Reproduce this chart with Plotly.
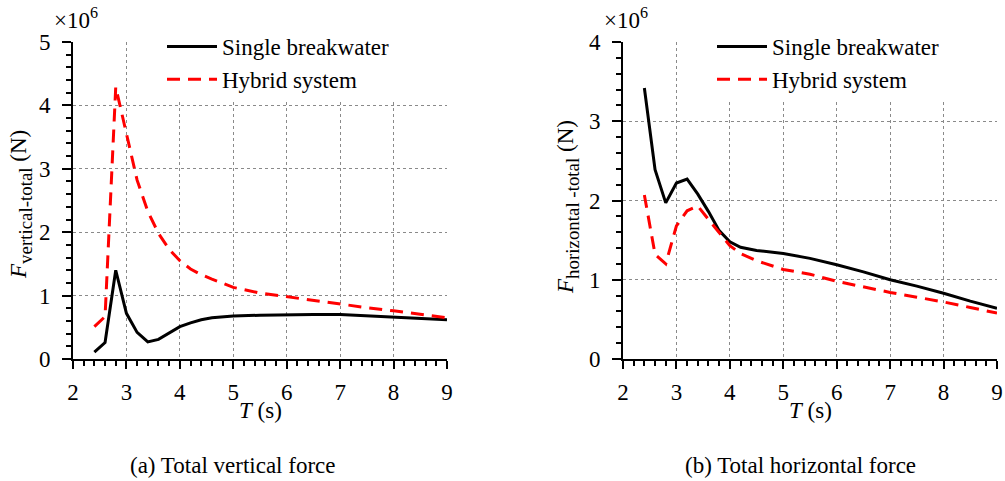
import plotly.graph_objects as go

# ---------------- data (forces in units of 10^6 N) ----------------
T_vert = [2.4, 2.6, 2.8, 3.0, 3.2, 3.4, 3.6, 3.8, 4.0, 4.2, 4.4, 4.6, 4.8, 5.0,
          5.5, 6.0, 6.5, 7.0, 7.5, 8.0, 8.5, 9.0]
F_vert_single = [0.11, 0.26, 1.40, 0.72, 0.42, 0.27, 0.31, 0.41, 0.51, 0.57, 0.62,
                 0.65, 0.67, 0.68, 0.69, 0.70, 0.70, 0.70, 0.68, 0.66, 0.64, 0.62]
F_vert_hybrid = [0.51, 0.67, 4.29, 3.53, 2.82, 2.33, 1.98, 1.73, 1.55, 1.42, 1.33,
                 1.26, 1.19, 1.13, 1.04, 0.98, 0.92, 0.86, 0.81, 0.76, 0.70, 0.65]

T_horiz = [2.4, 2.6, 2.8, 3.0, 3.2, 3.4, 3.6, 3.8, 4.0, 4.2, 4.5, 5.0, 5.5, 6.0,
           6.5, 7.0, 7.5, 8.0, 8.5, 9.0]
F_horiz_single = [3.42, 2.39, 1.97, 2.22, 2.27, 2.08, 1.86, 1.62, 1.48, 1.41, 1.37,
                  1.33, 1.27, 1.19, 1.10, 1.00, 0.92, 0.83, 0.73, 0.64]
F_horiz_hybrid = [2.07, 1.32, 1.20, 1.68, 1.87, 1.93, 1.76, 1.59, 1.43, 1.33, 1.24,
                  1.13, 1.07, 0.98, 0.91, 0.84, 0.78, 0.72, 0.65, 0.58]

series_names = ["Single breakwater", "Hybrid system"]
x_grid = [3, 4, 5, 6, 7, 8]
y_grid_vert = [1, 2, 3, 4]
y_grid_horiz = [1, 2, 3]
captions = ["(a) Total vertical force", "(b) Total horizontal force"]
y_subscripts = ["vertical-total", "horizontal -total"]
x_title = "<i>T</i> (s)"
scale_label = "\u00d710<sup>6</sup>"

# ---------------- layout constants ----------------
W, H = 1005, 481
FONT = "Liberation Serif, Times New Roman, serif"
FS = 23
px_x = lambda p: p / W
px_y = lambda p: 1 - p / H

xdom1 = [px_x(73), px_x(447)]
xdom2 = [px_x(623), px_x(997)]
ydom = [px_y(359), px_y(42)]

SOLID = dict(color="black", width=3)
DASHED = dict(color="#ff0000", width=3, dash="13px,8px")

fig = go.Figure()
fig.add_trace(go.Scatter(x=T_vert, y=F_vert_single, mode="lines", name=series_names[0],
                         line=SOLID, xaxis="x", yaxis="y", legend="legend"))
fig.add_trace(go.Scatter(x=T_vert, y=F_vert_hybrid, mode="lines", name=series_names[1],
                         line=DASHED, xaxis="x", yaxis="y", legend="legend"))
fig.add_trace(go.Scatter(x=T_horiz, y=F_horiz_single, mode="lines", name=series_names[0],
                         line=SOLID, xaxis="x2", yaxis="y2", legend="legend2"))
fig.add_trace(go.Scatter(x=T_horiz, y=F_horiz_hybrid, mode="lines", name=series_names[1],
                         line=DASHED, xaxis="x2", yaxis="y2", legend="legend2"))
# empty carriers for grid-only overlay axes
fig.add_trace(go.Scatter(x=[], y=[], xaxis="x3", yaxis="y3", showlegend=False, hoverinfo="skip"))
fig.add_trace(go.Scatter(x=[], y=[], xaxis="x4", yaxis="y4", showlegend=False, hoverinfo="skip"))

tickfont = dict(family=FONT, size=FS, color="black")


def main_x(dom, anchor):
    return dict(domain=dom, anchor=anchor, range=[2, 9], tickmode="linear", tick0=2, dtick=1,
                showgrid=False, zeroline=False, showline=True, linecolor="black", linewidth=2,
                ticks="outside", ticklen=8, tickwidth=2, tickcolor="black",
                minor=dict(tick0=2, dtick=0.2, ticks="outside", ticklen=5, tickwidth=1.5,
                           tickcolor="black", showgrid=False),
                tickfont=tickfont, ticklabelstandoff=3, automargin=False)


def main_y(dom, anchor, top):
    return dict(domain=dom, anchor=anchor, range=[0, top], tickmode="linear", tick0=0, dtick=1,
                showgrid=False, zeroline=False, showline=True, linecolor="black", linewidth=2,
                ticks="outside", ticklen=9, tickwidth=2, tickcolor="black",
                minor=dict(tick0=0, dtick=0.2, ticks="outside", ticklen=5, tickwidth=1.5,
                           tickcolor="black", showgrid=False),
                tickfont=tickfont, ticklabelstandoff=7, automargin=False)


GRID = dict(showgrid=True, gridcolor="#8a8a8a", gridwidth=1, griddash="3px,3px",
            showticklabels=False, ticks="", showline=False, zeroline=False, automargin=False)

legend_common = dict(xanchor="left", yanchor="top", bgcolor="white", borderwidth=0,
                     font=dict(family=FONT, size=FS, color="black"), itemwidth=50,
                     tracegroupgap=0)

fig.update_layout(
    width=W, height=H, autosize=False,
    margin=dict(l=0, r=0, t=0, b=0, pad=0, autoexpand=False),
    paper_bgcolor="white", plot_bgcolor="rgba(0,0,0,0)",
    font=dict(family=FONT, size=FS, color="black"),
    xaxis=main_x(xdom1, "y"), yaxis=main_y(ydom, "x", 5),
    xaxis2=main_x(xdom2, "y2"), yaxis2=main_y(ydom, "x2", 4),
    xaxis3=dict(overlaying="x", anchor="y3", range=[2, 9], tickmode="array", tickvals=x_grid, **GRID),
    yaxis3=dict(overlaying="y", anchor="x3", range=[0, 5], tickmode="array", tickvals=y_grid_vert, **GRID),
    xaxis4=dict(overlaying="x2", anchor="y4", range=[2, 9], tickmode="array", tickvals=x_grid, **GRID),
    yaxis4=dict(overlaying="y2", anchor="x4", range=[0, 4], tickmode="array", tickvals=y_grid_horiz, **GRID),
    legend=dict(x=px_x(162), y=px_y(25), **legend_common),
    legend2=dict(x=px_x(712), y=px_y(25), **legend_common),
    showlegend=True,
)


def y_title(sub):
    return ("<span style='font-size:23px'><i>F</i></span><sub>" + sub +
            "</sub><span style='font-size:23px'> (N)</span>")


ann_font = dict(family=FONT, size=FS, color="black")
annotations = [
    dict(text=scale_label, x=px_x(52), y=px_y(18), xanchor="left", yanchor="middle"),
    dict(text=scale_label, x=px_x(602), y=px_y(18), xanchor="left", yanchor="middle"),
    dict(text=y_title(y_subscripts[0]), x=px_x(21), y=px_y(205), xanchor="center",
         yanchor="middle", textangle=-90, font=dict(family=FONT, size=27, color="black")),
    dict(text=y_title(y_subscripts[1]), x=px_x(568), y=px_y(207), xanchor="center",
         yanchor="middle", textangle=-90, font=dict(family=FONT, size=27, color="black")),
    dict(text=x_title, x=px_x(260), y=px_y(410), xanchor="center", yanchor="middle"),
    dict(text=x_title, x=px_x(810), y=px_y(410), xanchor="center", yanchor="middle"),
    dict(text=captions[0], x=px_x(232), y=px_y(465), xanchor="center", yanchor="middle"),
    dict(text=captions[1], x=px_x(800), y=px_y(465), xanchor="center", yanchor="middle"),
]
for a in annotations:
    a.setdefault("font", ann_font)
    a.update(xref="paper", yref="paper", showarrow=False)
fig.update_layout(annotations=annotations)

fig.write_html("out.html", config={"responsive": False, "displayModeBar": False},
               post_script="document.body.style.margin='0';document.body.style.overflow='hidden';")
